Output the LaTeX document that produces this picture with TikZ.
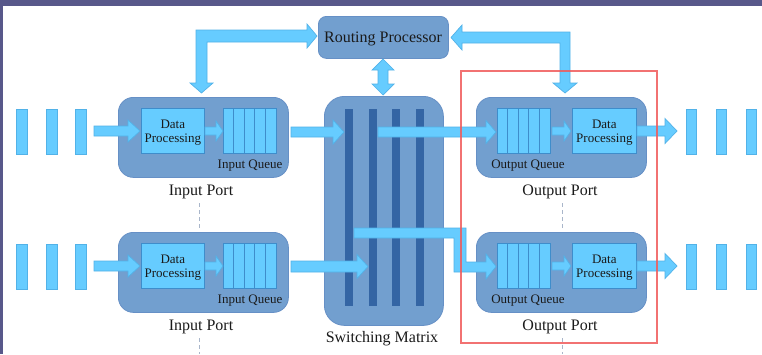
\documentclass[tikz,border=0pt]{standalone}
\usepackage{fontspec}
\setmainfont{Liberation Serif}
\definecolor{band}{HTML}{58588A}
\definecolor{portfill}{HTML}{729FCF}
\definecolor{portdraw}{HTML}{6690C6}
\definecolor{bardark}{HTML}{3465A4}
\definecolor{light}{HTML}{66CCFF}
\definecolor{lightdraw}{HTML}{52B2E8}
\definecolor{boxdraw}{HTML}{3E8DCB}
\definecolor{redline}{HTML}{F05A5A}
\definecolor{sepgray}{HTML}{A9B6CA}
\definecolor{txt}{HTML}{1A1A1A}
\newcommand\hfat[6]{%
  \draw[fatarrow] (#1,{#3-#4}) -- ({#2-#6},{#3-#4}) -- ({#2-#6},{#3-#5}) -- (#2,#3)
   -- ({#2-#6},{#3+#5}) -- ({#2-#6},{#3+#4}) -- (#1,{#3+#4}) -- cycle;}
\begin{document}
\begin{tikzpicture}[x=1pt,y=-1pt,
  port/.style={draw=portdraw, fill=portfill, line width=0.8pt, rounded corners=15pt,
    minimum width=170pt, minimum height=80pt, inner sep=0pt, anchor=north west},
  dpbox/.style={draw=boxdraw, fill=light, line width=0.7pt, inner sep=0pt, anchor=north west,
    minimum height=45pt},
  dptext/.style={align=center, text=txt, inner sep=0pt, font=\fontsize{13}{14}\selectfont},
  qbox/.style={draw=boxdraw, fill=light, line width=0.7pt, inner sep=0pt, anchor=north west,
    minimum width=53pt, minimum height=45pt},
  qline/.style={draw=boxdraw, line width=0.7pt},
  pkt/.style={draw=lightdraw, fill=light, line width=0.6pt, inner sep=0pt, anchor=north west,
    minimum height=45pt},
  mbar/.style={fill=bardark, inner sep=0pt, anchor=north west, minimum width=8pt, minimum height=197pt},
  biglab/.style={text=txt, font=\fontsize{16}{18}\selectfont, inner sep=0pt},
  smalllab/.style={text=txt, font=\fontsize{13}{15}\selectfont, inner sep=0pt},
  fatarrow/.style={draw=lightdraw, fill=light, line width=0.7pt, line join=miter},
  sepline/.style={draw=sepgray, line width=1pt, dash pattern=on 4pt off 3pt}]
\useasboundingbox (0,0) rectangle (762,354);
\fill[band] (0,0) rectangle (762,354);
\fill[white] (3,6) rectangle (762,354);

% routing processor and switching matrix
\node[draw=portdraw, fill=portfill, line width=0.8pt, rounded corners=8pt, inner sep=0pt,
  minimum width=130pt, minimum height=42pt, anchor=north west] (rp) at (318,16) {};
\node[biglab] (rpl) at (383,39) {Routing Processor};
\node[draw=portdraw, fill=portfill, line width=0.8pt, rounded corners=20pt, inner sep=0pt,
  minimum width=119pt, minimum height=229pt, anchor=north west] (sm) at (324,96) {};
\foreach \bx [count=\k] in {345,369,392,416}
  \node[mbar] (bar\k) at (\bx,109) {};
\node[biglab] (sml) at (382,338.5) {Switching Matrix};

\foreach \r/\dy in {1/0,2/135}{
  % input port
  \node[port] (ip\r) at (118,97+\dy) {};
  \node[dpbox, minimum width=63pt] (idp\r) at (141,108+\dy) {};
  \node[dptext] (idpt\r) at ([yshift=-2pt]idp\r.center) {Data\\Processing};
  \node[qbox] (iq\r) at (223,108+\dy) {};
  \foreach \i in {1,...,4}
    \draw[qline] ([xshift=\i*10.6pt]iq\r.north west) -- ([xshift=\i*10.6pt]iq\r.south west);
  \node[smalllab] (iql\r) at (250,165.5+\dy) {Input Queue};
  \node[biglab] (ipl\r) at (201,191.5+\dy) {Input Port};
  \foreach \bx [count=\k] in {16,46,75}
    \node[pkt, minimum width=11pt] (ib\r\k) at (\bx,109+\dy) {};
  % output port
  \node[port] (op\r) at (476,97+\dy) {};
  \node[qbox] (oq\r) at (497,108+\dy) {};
  \foreach \i in {1,...,4}
    \draw[qline] ([xshift=\i*10.6pt]oq\r.north west) -- ([xshift=\i*10.6pt]oq\r.south west);
  \node[dpbox, minimum width=64pt] (odp\r) at (572,108+\dy) {};
  \node[dptext] (odpt\r) at ([yshift=-2pt]odp\r.center) {Data\\Processing};
  \node[smalllab] (oql\r) at (528,165.5+\dy) {Output Queue};
  \node[biglab] (opl\r) at (560,191.5+\dy) {Output Port};
  \foreach \bx [count=\k] in {686,716,746}
    \node[pkt, minimum width=10pt] (ob\r\k) at (\bx,109+\dy) {};
  % arrows inside the row
  \hfat{94}{140}{131+\dy}{5}{11}{12}
  \hfat{205}{223}{131+\dy}{4}{10}{7}
  \hfat{552}{571}{131+\dy}{4}{10}{7}
  \hfat{637}{677}{131+\dy}{5}{12.5}{12}
}

% separator lines
\draw[sepline] (199,203) -- (199,230);
\draw[sepline] (199,338) -- (199,354);
\draw[sepline] (562,203) -- (562,230);
\draw[sepline] (562,338) -- (562,354);

% ports to matrix
\hfat{291}{344}{132}{5}{12}{11}
\hfat{291}{368}{266.5}{5.5}{12}{11}
% matrix to output ports
\hfat{378}{496}{132}{5}{11.5}{10}
\draw[fatarrow] (354,228) -- (466,228) -- (466,262) -- (486,262) -- (486,254) -- (496,266.5)
  -- (486,279) -- (486,272) -- (454,272) -- (454,238) -- (354,238) -- cycle;

% routing processor links
\draw[fatarrow] (196,30) -- (307,30) -- (307,24) -- (317,36) -- (307,48) -- (307,42)
  -- (207,42) -- (207,83) -- (213,83) -- (201.5,93) -- (190,83) -- (196,83) -- cycle;
\draw[fatarrow] (451,37.5) -- (462,25) -- (462,32) -- (570,32) -- (570,83) -- (577,83)
  -- (565,93) -- (553,83) -- (560,83) -- (560,43) -- (462,43) -- (462,50) -- cycle;
\draw[fatarrow] (383,59) -- (394,70) -- (388,70) -- (388,84) -- (394,84) -- (383,95)
  -- (372,84) -- (378,84) -- (378,70) -- (372,70) -- cycle;

% highlight frame
\draw[redline, line width=1.2pt, opacity=0.85] (461,71) rectangle (657,343);
\end{tikzpicture}
\end{document}
